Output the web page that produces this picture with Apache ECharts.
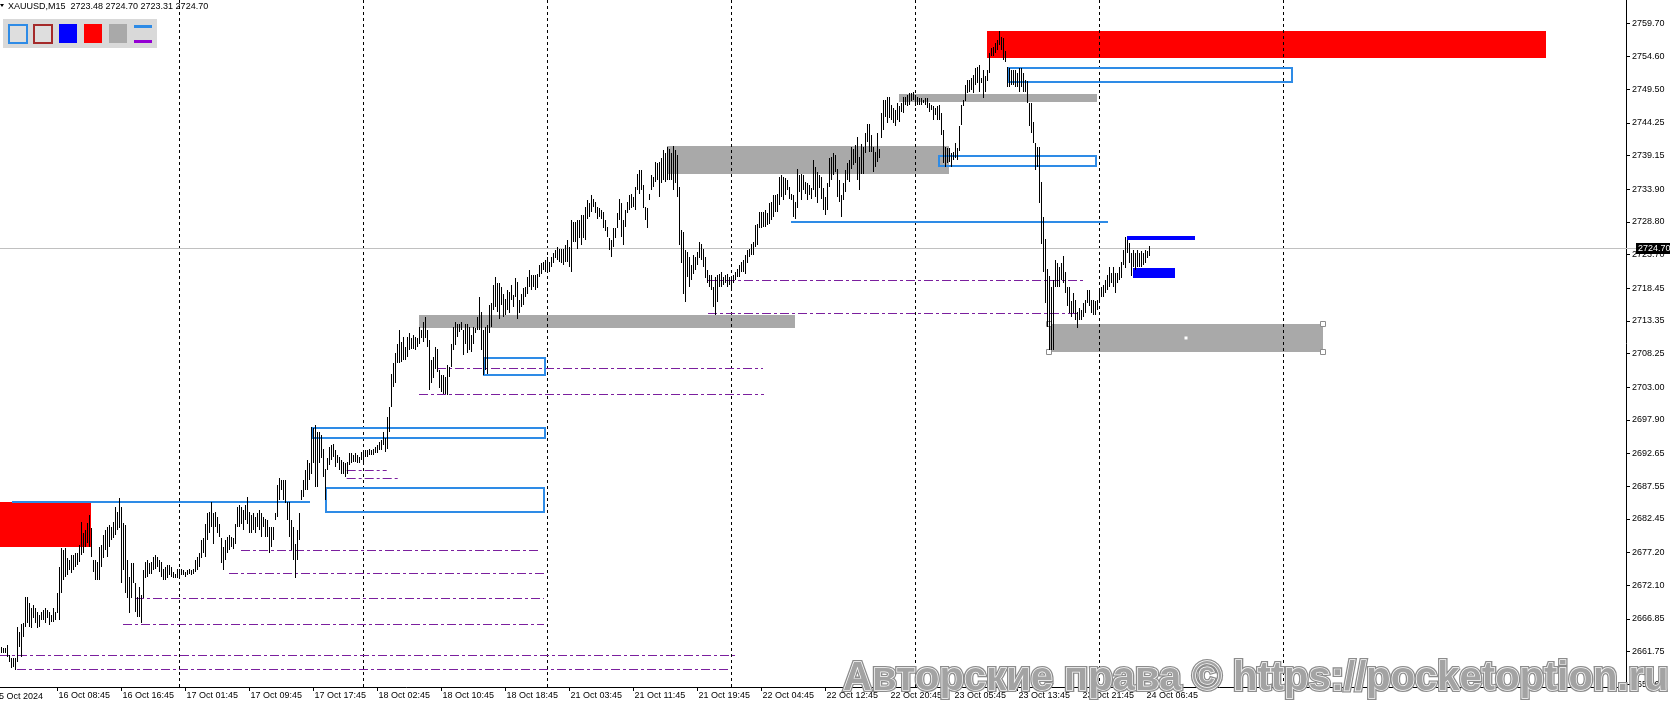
<!DOCTYPE html>
<html><head><meta charset="utf-8">
<script src="https://cdn.jsdelivr.net/npm/echarts@6/dist/echarts.min.js"></script>
<style>html,body{margin:0;padding:0;background:#fff;}#c{width:1673px;height:705px;}</style>
</head><body><div id="c"></div>
<script>
// ---------- DATA ----------
const hi = [
2662.5,2662.3,2662.3,2662.8,2661.2,2660.8,2660.8,2660.8,2665.6,2664.8,
2666.1,2666.2,2670.3,2670.3,2669.3,2668.6,2669.0,2668.6,2667.9,2667.5,
2667.9,2668.2,2668.6,2668.2,2667.9,2667.5,2668.6,2667.9,2670.9,2674.9,
2677.9,2677.6,2677.9,2676.4,2676.0,2676.8,2676.8,2677.1,2677.1,2678.4,
2682.0,2680.2,2680.7,2681.8,2683.1,2681.0,2676.0,2676.0,2675.7,2678.1,
2678.4,2680.0,2680.7,2681.2,2681.5,2681.2,2682.0,2684.3,2683.5,2685.7,
2684.3,2681.8,2681.5,2676.0,2673.4,2675.6,2675.6,2672.5,2670.3,2671.8,
2670.6,2674.5,2675.7,2676.0,2675.5,2675.8,2676.5,2676.8,2676.5,2676.0,
2675.8,2674.7,2675.0,2675.2,2675.2,2675.0,2674.2,2673.9,2674.7,2674.7,
2674.7,2674.5,2674.2,2674.5,2674.7,2674.5,2674.7,2676.0,2676.5,2677.1,
2679.1,2679.4,2681.7,2683.3,2683.6,2685.1,2683.3,2683.6,2682.8,2681.7,
2679.4,2678.1,2679.1,2679.7,2679.9,2679.7,2679.4,2681.7,2684.3,2684.6,
2684.3,2683.8,2684.6,2685.9,2683.6,2683.0,2683.3,2682.8,2683.3,2683.8,
2683.3,2682.8,2682.5,2682.3,2681.2,2681.2,2681.2,2683.3,2687.7,2688.8,
2688.5,2688.5,2688.5,2685.1,2685.1,2682.3,2681.2,2678.6,2680.7,2683.3,
2686.9,2688.5,2690.1,2691.6,2691.1,2696.8,2696.6,2697.1,2696.0,2696.0,
2695.5,2693.4,2690.3,2691.9,2693.7,2694.0,2694.2,2693.2,2692.4,2692.1,
2691.6,2691.4,2691.1,2691.4,2692.7,2692.7,2692.4,2692.7,2692.4,2692.1,
2692.9,2693.2,2693.2,2693.2,2693.4,2693.2,2693.4,2693.7,2694.0,2694.5,
2694.7,2696.0,2695.0,2698.4,2699.9,2705.1,2706.7,2708.3,2709.8,2711.9,
2710.1,2710.9,2709.3,2710.9,2711.4,2710.6,2711.1,2710.9,2710.6,2712.4,
2711.9,2713.2,2714.0,2711.9,2710.3,2707.2,2707.7,2709.3,2709.0,2705.7,
2704.9,2704.9,2704.6,2706.4,2706.2,2709.8,2712.4,2713.2,2712.9,2712.9,
2713.2,2711.9,2712.9,2712.9,2712.4,2711.1,2712.4,2712.2,2714.0,2717.1,
2714.8,2711.9,2712.4,2712.7,2715.8,2716.1,2718.9,2720.2,2719.2,2719.2,
2718.7,2717.6,2716.8,2718.1,2717.9,2718.9,2717.4,2720.0,2719.4,2716.6,
2717.6,2718.4,2718.7,2720.2,2721.3,2720.5,2720.5,2720.5,2720.7,2722.0,
2722.3,2722.6,2722.8,2723.3,2722.6,2723.3,2723.9,2724.4,2724.9,2724.6,
2724.6,2724.6,2725.2,2725.9,2724.9,2729.1,2728.8,2728.8,2729.1,2729.1,
2729.8,2729.8,2731.1,2732.2,2731.7,2733.0,2732.4,2731.9,2731.1,2730.9,
2730.6,2730.4,2729.1,2728.0,2726.2,2725.9,2727.8,2727.8,2730.1,2732.4,
2731.7,2729.1,2730.6,2731.9,2733.0,2733.2,2732.7,2734.3,2736.3,2736.9,
2736.9,2734.5,2731.1,2730.9,2733.2,2736.1,2735.8,2738.2,2737.9,2738.2,
2738.7,2740.0,2739.5,2740.5,2740.2,2739.5,2740.6,2740.0,2739.2,2734.3,
2727.5,2727.2,2724.4,2724.1,2723.3,2722.0,2723.6,2723.3,2724.1,2725.7,
2725.4,2724.6,2723.3,2721.3,2720.5,2720.5,2718.7,2720.2,2720.5,2720.7,
2721.0,2720.2,2720.5,2720.7,2720.2,2720.0,2720.5,2721.0,2721.5,2722.0,
2722.6,2722.8,2723.6,2724.4,2724.6,2725.4,2725.7,2728.3,2728.5,2730.4,
2730.4,2730.4,2730.6,2730.1,2731.7,2731.9,2733.0,2733.0,2733.2,2735.8,
2736.1,2735.8,2735.6,2735.3,2734.3,2733.2,2733.0,2731.9,2737.1,2736.1,
2736.3,2736.1,2735.0,2734.8,2734.5,2734.0,2738.4,2737.4,2736.6,2736.1,
2735.8,2734.0,2732.7,2734.8,2738.7,2738.9,2739.5,2739.2,2737.1,2735.3,
2733.0,2734.8,2736.9,2737.9,2738.4,2740.5,2740.2,2740.8,2742.1,2738.9,
2741.0,2740.5,2742.6,2744.1,2744.1,2742.3,2740.5,2739.7,2742.6,2740.2,
2745.7,2747.8,2747.8,2748.3,2748.3,2747.0,2746.5,2746.3,2747.3,2746.8,
2747.3,2748.3,2748.3,2748.6,2748.9,2748.9,2749.1,2748.6,2748.3,2748.1,
2748.1,2747.8,2748.1,2748.1,2747.3,2747.0,2746.8,2746.5,2746.8,2747.0,
2745.7,2743.1,2740.5,2740.3,2740.3,2739.5,2739.7,2741.1,2740.3,2743.7,
2747.0,2747.8,2750.2,2750.9,2750.9,2751.2,2751.7,2752.8,2753.0,2753.3,
2751.2,2752.5,2751.5,2752.5,2755.1,2755.9,2756.1,2756.7,2757.2,2758.5,
2757.7,2757.4,2755.4,2753.0,2752.8,2752.5,2752.5,2752.5,2752.0,2752.8,
2752.8,2752.0,2750.9,2750.7,2747.3,2747.3,2744.4,2741.1,2740.5,2740.5,
2735.0,2729.6,2726.1,2721.5,2720.3,2718.7,2719.7,2722.9,2722.3,2721.8,
2722.3,2723.4,2721.0,2718.7,2718.7,2716.4,2717.7,2716.6,2714.8,2715.3,
2715.1,2716.1,2716.6,2718.2,2718.2,2716.6,2716.6,2716.4,2716.6,2718.2,
2718.7,2719.0,2719.7,2720.5,2721.8,2720.8,2721.8,2720.8,2720.8,2721.8,
2722.6,2724.4,2726.5,2726.0,2725.5,2723.9,2724.4,2723.9,2724.4,2723.9,
2724.2,2723.9,2724.4,2724.2,2725.0
];
const lo = [
2661.5,2661.5,2661.5,2660.9,2660.1,2659.2,2659.4,2658.9,2660.1,2662.5,
2660.9,2664.0,2665.6,2666.2,2665.6,2665.4,2667.0,2666.2,2665.4,2665.6,
2666.7,2666.7,2666.2,2667.0,2665.9,2666.4,2666.4,2666.7,2667.8,2666.7,
2670.9,2672.9,2673.4,2673.7,2674.5,2674.0,2674.5,2674.9,2675.3,2675.7,
2676.8,2677.1,2678.1,2678.7,2678.1,2676.5,2674.2,2672.9,2672.9,2672.9,
2674.9,2676.4,2677.6,2676.5,2678.1,2679.2,2679.5,2680.0,2680.7,2681.0,
2672.5,2674.5,2670.9,2670.1,2667.8,2670.1,2672.5,2667.9,2667.1,2667.1,
2666.2,2670.1,2673.2,2673.4,2673.9,2673.9,2674.5,2674.7,2675.0,2674.2,
2673.4,2672.9,2672.9,2673.2,2673.7,2673.4,2673.2,2673.2,2673.2,2673.4,
2673.7,2673.7,2673.4,2673.7,2673.9,2673.7,2673.9,2674.2,2674.5,2675.0,
2676.3,2677.1,2676.5,2679.1,2680.2,2681.2,2678.6,2681.2,2680.2,2679.7,
2675.5,2674.5,2676.0,2677.1,2677.6,2678.1,2677.8,2678.6,2681.2,2681.2,
2681.7,2680.7,2682.3,2681.7,2680.2,2680.2,2680.7,2680.2,2681.2,2680.7,
2679.7,2681.2,2679.7,2679.7,2677.1,2678.1,2679.1,2682.3,2682.8,2685.4,
2686.9,2685.4,2684.9,2682.3,2679.7,2677.6,2676.0,2673.2,2676.0,2679.1,
2685.4,2685.9,2686.9,2686.9,2688.5,2689.5,2691.1,2687.5,2687.5,2691.1,
2691.9,2689.0,2685.4,2690.1,2690.8,2691.6,2692.1,2690.6,2691.1,2690.1,
2689.5,2689.5,2689.0,2689.5,2690.8,2691.1,2691.4,2691.4,2691.1,2691.1,
2691.6,2691.4,2692.1,2692.1,2692.4,2692.4,2692.4,2692.7,2692.7,2693.2,
2693.2,2694.0,2692.9,2693.4,2696.0,2699.9,2703.1,2703.6,2706.7,2706.7,
2707.0,2707.2,2707.2,2707.7,2708.8,2709.0,2709.0,2708.8,2709.3,2709.8,
2710.6,2710.1,2710.6,2709.3,2702.5,2703.6,2704.4,2705.9,2705.4,2702.8,
2702.3,2702.0,2702.0,2701.8,2704.6,2706.2,2708.8,2709.6,2710.9,2711.6,
2711.9,2708.0,2709.8,2708.3,2708.8,2708.5,2709.8,2711.4,2711.9,2711.9,
2708.8,2704.9,2705.7,2705.1,2711.4,2712.4,2715.0,2715.5,2714.8,2713.7,
2715.8,2714.0,2714.2,2715.0,2714.5,2716.6,2715.5,2717.1,2713.7,2714.5,
2715.5,2715.8,2717.1,2717.6,2718.7,2718.1,2718.7,2718.1,2718.4,2720.2,
2720.7,2721.3,2721.0,2721.3,2721.0,2721.8,2722.3,2723.1,2722.8,2722.6,
2722.3,2722.0,2722.6,2722.6,2721.8,2721.0,2725.7,2725.7,2724.6,2726.2,
2725.2,2726.2,2725.9,2729.3,2729.6,2730.4,2731.1,2730.1,2729.3,2729.6,
2729.3,2727.8,2727.3,2726.5,2724.4,2723.3,2724.9,2726.2,2727.8,2729.1,
2726.5,2725.2,2728.0,2730.1,2730.6,2730.9,2731.1,2730.6,2733.7,2733.2,
2733.7,2730.9,2729.1,2727.8,2732.2,2733.7,2734.3,2735.0,2735.3,2732.7,
2734.8,2735.3,2735.0,2735.3,2735.3,2735.3,2733.7,2734.8,2732.7,2725.2,
2722.3,2717.6,2716.3,2720.2,2718.6,2719.7,2720.7,2721.3,2722.0,2723.1,
2722.8,2721.8,2720.0,2719.2,2718.7,2718.1,2715.5,2714.2,2716.3,2718.7,
2718.7,2718.9,2719.2,2718.7,2718.9,2718.4,2719.2,2719.7,2720.2,2720.2,
2721.0,2721.0,2720.7,2722.3,2723.3,2723.6,2723.6,2724.9,2725.2,2727.8,
2727.8,2728.0,2728.0,2728.3,2728.5,2729.1,2729.6,2730.4,2730.4,2731.4,
2732.7,2732.2,2733.0,2733.7,2732.4,2732.2,2729.6,2729.3,2730.9,2733.5,
2732.2,2733.7,2733.2,2732.2,2733.0,2732.4,2733.7,2732.7,2731.7,2734.0,
2732.4,2730.6,2729.8,2730.6,2734.3,2735.3,2736.1,2736.6,2732.7,2731.9,
2729.6,2732.2,2733.5,2735.3,2735.0,2737.1,2737.6,2737.9,2735.3,2733.7,
2736.3,2736.3,2739.5,2741.3,2739.7,2739.7,2736.6,2737.4,2738.2,2738.7,
2741.8,2743.1,2745.2,2744.2,2745.0,2744.7,2744.2,2743.7,2744.7,2744.4,
2746.0,2745.7,2747.0,2746.8,2747.0,2747.6,2747.8,2746.8,2747.0,2747.0,
2747.0,2747.3,2747.0,2746.5,2746.0,2746.3,2744.7,2745.5,2744.7,2744.7,
2742.4,2737.9,2737.4,2737.9,2738.2,2737.4,2738.5,2738.7,2738.5,2739.8,
2743.9,2746.8,2747.6,2748.9,2749.1,2749.4,2748.9,2750.2,2750.4,2749.1,
2750.4,2748.1,2749.1,2750.7,2752.0,2754.6,2754.6,2755.1,2755.6,2756.4,
2755.6,2754.1,2753.8,2749.9,2749.9,2750.2,2750.2,2749.9,2749.9,2749.1,
2749.9,2749.1,2749.1,2747.3,2743.7,2742.6,2741.1,2736.9,2737.4,2731.7,
2725.4,2721.0,2716.1,2712.4,2708.8,2708.8,2708.8,2718.7,2718.7,2718.7,
2719.7,2719.2,2717.7,2715.6,2714.5,2714.0,2714.5,2713.5,2712.2,2713.5,
2713.5,2714.0,2714.5,2716.1,2715.6,2714.5,2714.3,2714.3,2715.1,2716.6,
2717.1,2717.1,2717.7,2718.2,2718.7,2719.2,2718.7,2717.7,2719.2,2719.7,
2720.0,2722.1,2721.6,2723.9,2722.3,2720.3,2721.8,2721.3,2721.8,2721.8,
2721.8,2722.1,2722.3,2723.1,2723.4
];
const xTickIdx = [28,60,92,124,156,188,220,252,284,316,348,380,412,444,476,508,540,572];
const xTickLabels = ['16 Oct 08:45','16 Oct 16:45','17 Oct 01:45','17 Oct 09:45','17 Oct 17:45','18 Oct 02:45','18 Oct 10:45','18 Oct 18:45','21 Oct 03:45','21 Oct 11:45','21 Oct 19:45','22 Oct 04:45','22 Oct 12:45','22 Oct 20:45','23 Oct 05:45','23 Oct 13:45','23 Oct 21:45','24 Oct 06:45'];
const firstLabel = '15 Oct 2024';
const yTicks = [2759.70,2754.60,2749.50,2744.25,2739.15,2733.90,2728.80,2723.70,2718.45,2713.35,2708.25,2703.00,2697.90,2692.65,2687.55,2682.45,2677.20,2672.10,2666.85,2661.75,2656.65];
const lastPrice = 2724.70;
const headerText = 'XAUUSD,M15  2723.48 2724.70 2723.31 2724.70';
const watermark = 'Авторские права © https://pocketoption.ru';
const separators = [89,181,273,365,457,549,641];
const redZones = [[-0.75,44.6,2685.1,2678.1],[492.75,772.25,2758.6,2754.4]];
const grayZones = [[208.75,396.75,2714.2,2712.2],[332.75,473.75,2740.6,2736.2],[448.75,547.75,2748.7,2747.5],[523.75,660.75,2712.9,2708.6]];
const selectedZone = 3;
const blueFills = [[562.9,596.75,2726.6,2725.9],[565.6,586.75,2721.6,2720.1]];
const blueBoxes = [[154.6,271.9,2696.8,2694.9],[161.75,271.9,2687.4,2683.4],[240.6,271.9,2707.7,2704.7],[468.4,547.9,2739.2,2737.4],[503.1,645.75,2753.0,2750.5]];
const blueLines = [[5.25,154.25,2685.1],[394.75,553.25,2728.8]];
const purpleLines = [[-0.75,367.25,2661.1],[7.75,364.75,2658.9],[60.75,271.25,2666.0],[66.75,271.25,2670.1],[113.75,271.25,2673.9],[119.75,268.75,2677.6],[172.6,192.6,2690.0],[172.6,199.25,2688.8],[217.75,380.75,2705.9],[208.75,381.25,2701.9],[353.25,541.75,2719.7],[353.25,538.25,2714.5]];

// ---------- CHART ----------
const FF = "'Liberation Sans', Arial, sans-serif";
const X_MIN = -0.75, X_MAX = 812.25, Y_MIN = 2656.23, Y_MAX = 2763.4;
const labelMap = {};
xTickIdx.forEach((v, k) => labelMap[v] = xTickLabels[k]);

const chart = echarts.init(document.getElementById('c'), null, {renderer: 'canvas'});

function rectFrom(api) {
  const a = api.coord([api.value(0), api.value(2)]);
  const b = api.coord([api.value(1), api.value(3)]);
  return {x: Math.round(Math.min(a[0], b[0])), y: Math.round(Math.min(a[1], b[1])),
          width: Math.round(Math.abs(b[0] - a[0])), height: Math.round(Math.abs(b[1] - a[1]))};
}
function fillSeries(data, color, z, withHandles) {
  return {type: 'custom', data, z, silent: true, encode: {x: [0, 1], y: [2, 3]},
    renderItem: (params, api) => {
      const r = rectFrom(api);
      const children = [{type: 'rect', shape: r, style: {fill: color}}];
      if (withHandles && params.dataIndex === selectedZone) {
        const pts = [[r.x, r.y], [r.x + r.width, r.y], [r.x, r.y + r.height], [r.x + r.width, r.y + r.height]];
        pts.forEach(p => children.push({type: 'rect', shape: {x: p[0] - 2.5, y: p[1] - 2.5, width: 5, height: 5},
          style: {fill: '#fff', stroke: '#8c8c8c', lineWidth: 1}}));
        children.push({type: 'rect', shape: {x: r.x + r.width / 2 - 1.5, y: r.y + r.height / 2 - 1.5, width: 3, height: 3}, style: {fill: '#fff'}});
      }
      return {type: 'group', children};
    }};
}
function boxSeries(data, color, z) {
  return {type: 'custom', data, z, silent: true, encode: {x: [0, 1], y: [2, 3]},
    renderItem: (params, api) => {
      const r = rectFrom(api);
      return {type: 'rect', shape: {x: r.x + 1, y: r.y + 1, width: r.width - 2, height: r.height - 2},
        style: {fill: 'none', stroke: color, lineWidth: 2}};
    }};
}
function hLineSeries(data, color, width, dash, z) {
  return {type: 'custom', data, z, silent: true, encode: {x: [0, 1], y: 2},
    renderItem: (params, api) => {
      const a = api.coord([api.value(0), api.value(2)]);
      const b = api.coord([api.value(1), api.value(2)]);
      const y = width % 2 === 1 ? Math.round(a[1] - 0.5) + 0.5 : Math.round(a[1]);
      return {type: 'line', shape: {x1: a[0], y1: y, x2: b[0], y2: y},
        style: {stroke: color, lineWidth: width, lineDash: dash || null}};
    }};
}

const option = {
  animation: false,
  backgroundColor: '#ffffff',
  grid: {left: 0, right: 47, top: 0, bottom: 18, containLabel: false},
  xAxis: {
    type: 'value', min: X_MIN, max: X_MAX,
    axisLine: {show: true, onZero: false, lineStyle: {color: '#000', width: 1}},
    axisTick: {show: true, customValues: xTickIdx, length: 4, lineStyle: {color: '#000'}},
    axisLabel: {customValues: xTickIdx, formatter: v => labelMap[v] || '', align: 'left', margin: 4,
      color: '#000', fontSize: 9, fontFamily: FF, padding: [0, 0, 0, 1]},
    splitLine: {show: false}
  },
  yAxis: {
    type: 'value', position: 'right', min: Y_MIN, max: Y_MAX,
    axisLine: {show: true, onZero: false, lineStyle: {color: '#000', width: 1}},
    axisTick: {show: true, customValues: yTicks, length: 4, lineStyle: {color: '#000'}},
    axisLabel: {customValues: yTicks, formatter: v => v.toFixed(2), margin: 6, color: '#000', fontSize: 9, fontFamily: FF},
    splitLine: {show: false}
  },
  series: [
    fillSeries(redZones, '#ff0000', 1, false),
    fillSeries(grayZones, '#a9a9a9', 1, true),
    fillSeries(blueFills, '#0000ff', 2, false),
    {type: 'custom', z: 2, silent: true, data: separators.map(v => [v]), encode: {x: 0},
      renderItem: (params, api) => {
        const t = api.coord([api.value(0), Y_MAX]);
        const b = api.coord([api.value(0), Y_MIN]);
        return {type: 'line', shape: {x1: t[0], y1: t[1], x2: b[0], y2: b[1]},
          style: {stroke: '#000', lineWidth: 1, lineDash: [3, 3]}};
      }},
    hLineSeries(purpleLines, '#7b1f9e', 1, [9, 3, 3, 3], 3),
    hLineSeries(blueLines, '#2e8be6', 2, null, 3),
    boxSeries(blueBoxes, '#2e8be6', 3),
    {type: 'custom', z: 4, silent: true, data: [[lastPrice]], encode: {y: 0},
      renderItem: (params, api) => {
        const cs = params.coordSys;
        const p = api.coord([X_MIN, api.value(0)]);
        const y = Math.round(p[1] - 0.5) + 0.5;
        const bx = cs.x + cs.width + 10;
        return {type: 'group', children: [
          {type: 'line', shape: {x1: cs.x, y1: y, x2: bx, y2: y}, style: {stroke: '#c0c0c0', lineWidth: 1}},
          {type: 'rect', shape: {x: bx, y: Math.round(y) - 6, width: 34, height: 11}, style: {fill: '#000'}},
          {type: 'text', style: {x: bx + 2, y: Math.round(y), text: api.value(0).toFixed(2), fill: '#fff',
            font: '9px ' + FF, textVerticalAlign: 'middle', verticalAlign: 'middle', align: 'left'}}
        ]};
      }},
    {type: 'custom', z: 5, silent: true, encode: {x: 0, y: [1, 2]},
      data: hi.map((h, k) => [k, lo[k], h]),
      renderItem: (params, api) => {
        const a = api.coord([api.value(0), api.value(2)]);
        const b = api.coord([api.value(0), api.value(1)]);
        const y1 = Math.round(a[1]), y2 = Math.max(Math.round(b[1]), y1 + 1);
        return {type: 'line', shape: {x1: a[0], y1: y1, x2: a[0], y2: y2}, style: {stroke: '#000', lineWidth: 1}};
      }}
  ],
  graphic: [
    {type: 'text', left: -6, top: 692, z: 10, style: {text: firstLabel, fill: '#000', font: '9px ' + FF}},
    {type: 'polygon', z: 10, shape: {points: [[0, 4], [4, 4], [2, 7]]}, style: {fill: '#000'}},
    {type: 'text', x: 8, y: 2, z: 10, style: {text: headerText, fill: '#000', font: '9px ' + FF}},
    {type: 'rect', z: 10, shape: {x: 3, y: 19, width: 154, height: 29}, style: {fill: '#d9d9d9'}},
    {type: 'rect', z: 11, shape: {x: 9, y: 25, width: 18, height: 18}, style: {fill: '#dedede', stroke: '#2e8be6', lineWidth: 2}},
    {type: 'rect', z: 11, shape: {x: 34, y: 25, width: 18, height: 18}, style: {fill: '#dedede', stroke: '#a52a2a', lineWidth: 2}},
    {type: 'rect', z: 11, shape: {x: 59, y: 24, width: 18, height: 19}, style: {fill: '#0000ff'}},
    {type: 'rect', z: 11, shape: {x: 84, y: 24, width: 18, height: 19}, style: {fill: '#ff0000'}},
    {type: 'rect', z: 11, shape: {x: 109, y: 24, width: 18, height: 19}, style: {fill: '#a9a9a9'}},
    {type: 'rect', z: 11, shape: {x: 134, y: 25, width: 18, height: 3}, style: {fill: '#2e8be6'}},
    {type: 'rect', z: 11, shape: {x: 134, y: 40, width: 18, height: 3}, style: {fill: '#9400d3'}},
    {type: 'text', x: 843, y: 659, z: 20, style: {text: watermark, fill: '#8c8c8c', stroke: '#8c8c8c', lineWidth: 4,
      font: 'bold 40px ' + FF}},
    {type: 'text', x: 843, y: 659, z: 21, style: {text: watermark, fill: '#a3a3a3', stroke: '#ffffff', lineWidth: 1.4,
      font: 'bold 40px ' + FF}}
  ]
};
chart.setOption(option);
</script></body></html>
